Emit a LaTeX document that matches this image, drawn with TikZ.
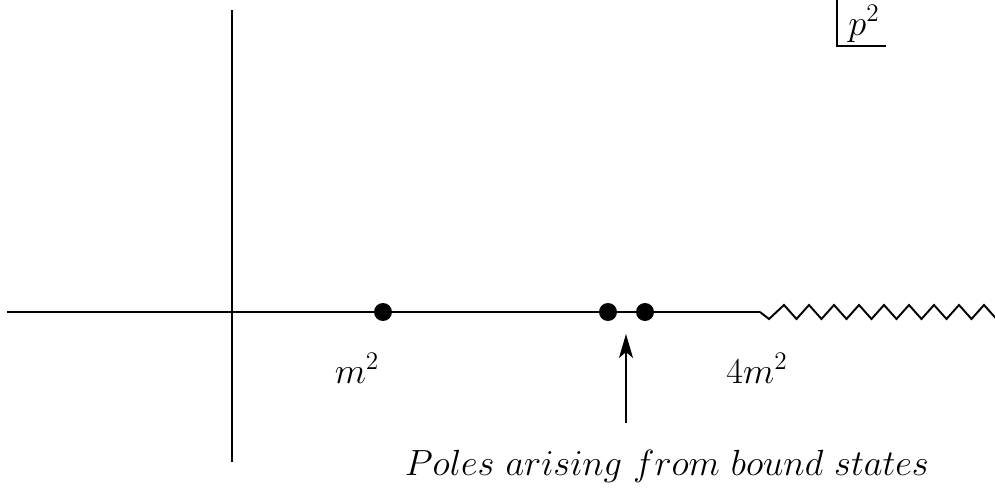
\documentclass[tikz,border=0pt]{standalone}
\usetikzlibrary{arrows.meta}
\tikzset{
  axis/.style={line width=1.1pt},
  pole/.style={circle,fill=black,inner sep=0pt,minimum size=0.36cm},
  lbl/.style={font=\fontsize{20.7}{25}\selectfont,inner sep=0pt,anchor=base}
}
\begin{document}
\begin{tikzpicture}[x=0.02cm,y=-0.02cm]
\useasboundingbox (0,0) rectangle (995,490);
% axes
\coordinate (xl) at (7,312);
\coordinate (zs) at (760,312);
\coordinate (yt) at (232,10);
\coordinate (yb) at (232,462);
\draw[axis] (xl) -- (zs);
\draw[axis] (yt) -- (yb);
% branch cut zigzag
\draw[axis,line join=miter] (zs) -- (769,319)
  \foreach \k in {0,...,8} { -- ({784+25*\k},305) -- ({796.5+25*\k},319) }
  -- (1005,305);
% poles
\node[pole] (p1) at (383,312) {};
\node[pole] (p2) at (608,312) {};
\node[pole] (p3) at (645,312) {};
% labels
\node[lbl] (m2) at (357,383) {$m^2$};
\node[lbl] (m4) at (757,383) {$4m^2$};
\node[lbl] (txt) at (667,475) {$Poles\ arising\ from\ bound\ states$};
% arrow
\coordinate (ab) at (626,423);
\coordinate (at) at (626,334);
\draw[axis,-{Stealth[length=0.48cm,width=0.28cm,inset=0.12cm]}] (ab) -- (at);
% p^2 corner box
\coordinate (c1) at (837,0);
\coordinate (c2) at (837,46);
\coordinate (c3) at (886,46);
\draw[axis] (c1) -- (c2) -- (c3);
\node[lbl] (p) at (864,35) {$p^2$};
\end{tikzpicture}
\end{document}
